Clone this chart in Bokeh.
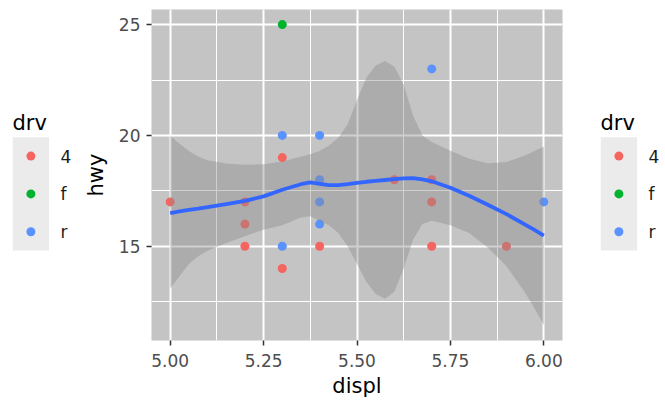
from bokeh.plotting import figure
from bokeh.layouts import row
from bokeh.models import Range1d, FixedTicker, ColumnDataSource, NumeralTickFormatter
from bokeh.transform import factor_cmap
from bokeh.core.properties import value
from bokeh.embed import file_html
from bokeh.resources import INLINE

# ---- data ----
displ = [5.0, 5.2, 5.2, 5.2, 5.3, 5.3, 5.3, 5.3, 5.3, 5.4, 5.4, 5.4, 5.4, 5.4,
         5.6, 5.7, 5.7, 5.7, 5.7, 5.9, 6.0]
hwy = [17, 17, 16, 15, 25, 20, 19, 15, 14, 20, 18, 17, 16, 15,
       18, 23, 18, 17, 15, 15, 17]
drv = ["4", "4", "4", "4", "f", "r", "4", "r", "4", "r", "r", "r", "r", "4",
       "4", "r", "4", "4", "4", "4", "r"]

drv_levels = ["4", "f", "r"]
drv_colors = ["#F5655F", "#00B32F", "#5A92FF"]

smooth_x = [5.00, 5.025, 5.05, 5.075, 5.10, 5.15, 5.20, 5.25, 5.30, 5.35, 5.375, 5.40, 5.425, 5.45,
            5.475, 5.50, 5.525, 5.55, 5.575, 5.60, 5.625, 5.65, 5.675, 5.70, 5.75, 5.80, 5.85,
            5.90, 5.95, 5.975, 6.00]
smooth_fit = [16.50, 16.57, 16.64, 16.70, 16.77, 16.90, 17.05, 17.25, 17.55, 17.80, 17.88, 17.82,
              17.76, 17.76, 17.80, 17.86, 17.91, 17.95, 17.99, 18.03, 18.06, 18.07, 18.02, 17.93,
              17.64, 17.28, 16.87, 16.45, 15.98, 15.74, 15.48]
smooth_upper = [19.99, 19.62, 19.30, 19.05, 18.88, 18.73, 18.68, 18.70, 18.82, 19.05, 19.15, 19.30,
                19.55, 19.90, 20.50, 21.60, 22.60, 23.15, 23.36, 23.10, 22.30, 20.90, 20.00, 19.70,
                19.31, 18.95, 18.75, 18.80, 19.10, 19.30, 19.50]
smooth_lower = [13.10, 13.65, 14.20, 14.55, 14.80, 15.15, 15.45, 15.75, 15.95, 16.30, 16.35, 16.15,
                15.95, 15.60, 15.00, 14.20, 13.40, 12.85, 12.63, 12.95, 14.00, 15.30, 16.00, 16.15,
                15.95, 15.60, 14.95, 14.10, 12.90, 12.20, 11.45]

x_breaks = [5.0, 5.25, 5.5, 5.75, 6.0]
x_minor = [4.875, 5.125, 5.375, 5.625, 5.875, 6.125]
y_breaks = [15, 20, 25]
y_minor = [12.5, 17.5, 22.5]

x_title = "displ"
y_title = "hwy"
legend_title = "drv"

FONT = "DejaVu Sans"
TICK_SIZE = "17px"
TITLE_SIZE = "21px"
H = 402
BORDER_TOP = 9
BORDER_BOTTOM = 62

# ---- main panel ----
src = ColumnDataSource(dict(displ=displ, hwy=hwy, drv=drv))

p = figure(width=510, height=H, x_range=Range1d(4.95, 6.05), y_range=Range1d(10.75, 25.68),
           output_backend="svg", toolbar_location=None,
           min_border_left=71, min_border_right=28,
           min_border_top=BORDER_TOP, min_border_bottom=BORDER_BOTTOM)
p.background_fill_color = "#C4C4C4"
p.border_fill_color = "white"
p.outline_line_color = None

p.xaxis.ticker = FixedTicker(ticks=x_breaks, minor_ticks=x_minor)
p.yaxis.ticker = FixedTicker(ticks=y_breaks, minor_ticks=y_minor)
p.xaxis.formatter = NumeralTickFormatter(format="0.00")

for g in (p.xgrid, p.ygrid):
    g.grid_line_color = "white"
    g.grid_line_width = 2
    g.minor_grid_line_color = "white"
    g.minor_grid_line_width = 1

for ax in (p.xaxis, p.yaxis):
    ax.axis_line_color = None
    ax.minor_tick_line_color = None
    ax.major_tick_line_color = "#333333"
    ax.major_tick_line_width = 1.5
    ax.major_tick_in = 0
    ax.major_tick_out = 5
    ax.major_label_text_font = FONT
    ax.major_label_text_font_size = TICK_SIZE
    ax.major_label_text_color = "#4D4D4D"
    ax.axis_label_text_font = FONT
    ax.axis_label_text_font_size = TITLE_SIZE
    ax.axis_label_text_font_style = "normal"
    ax.axis_label_text_color = "black"

p.xaxis.axis_label = x_title
p.yaxis.axis_label = y_title
p.xaxis.major_label_standoff = 8
p.xaxis.axis_label_standoff = 4
p.yaxis.major_label_standoff = 6
p.yaxis.axis_label_standoff = 8

p.scatter("displ", "hwy", source=src, size=9, line_color=None,
          fill_color=factor_cmap("drv", palette=drv_colors, factors=drv_levels))
p.varea(x=smooth_x, y1=smooth_lower, y2=smooth_upper, fill_color="#8A8A8A", fill_alpha=0.4)
p.line(smooth_x, smooth_fit, line_color="#3366FF", line_width=3.8)


# ---- legends (small figures whose data units are page pixels) ----
def legend_fig(width, x_left, x0):
    f = figure(width=width, height=H,
               x_range=Range1d(x_left, x_left + width),
               y_range=Range1d(H - BORDER_BOTTOM, BORDER_TOP),
               output_backend="svg", toolbar_location=None,
               x_axis_type=None, y_axis_type=None,
               min_border_left=0, min_border_right=0,
               min_border_top=BORDER_TOP, min_border_bottom=BORDER_BOTTOM)
    f.grid.visible = False
    f.outline_line_color = None
    f.background_fill_color = "white"
    f.border_fill_color = "white"
    key_h = 37.8
    top = 136.7
    f.text(x=[x0], y=[122], text=[legend_title], text_font=value(FONT),
           text_font_size=TITLE_SIZE, text_color="black",
           text_baseline="alphabetic", text_align="left")
    f.quad(left=[x0 + 0.3], right=[x0 + 36.5], top=[top], bottom=[top + key_h * len(drv_levels)],
           fill_color="#EBEBEB", line_color=None)
    ys = [top + key_h * (i + 0.5) for i in range(len(drv_levels))]
    f.scatter(x=[x0 + 18.4] * len(drv_levels), y=ys, size=9, fill_color=drv_colors, line_color=None)
    f.text(x=[x0 + 48] * len(drv_levels), y=ys, text=drv_levels, text_font=value(FONT),
           text_font_size=TICK_SIZE, text_color="#1A1A1A",
           text_baseline="middle", text_align="left")
    return f


leg_left = legend_fig(80, 0, 12)
leg_right = legend_fig(75, 590, 600)

layout = row(leg_left, p, leg_right, spacing=0)

open("out.html", "w").write(file_html(layout, INLINE))
